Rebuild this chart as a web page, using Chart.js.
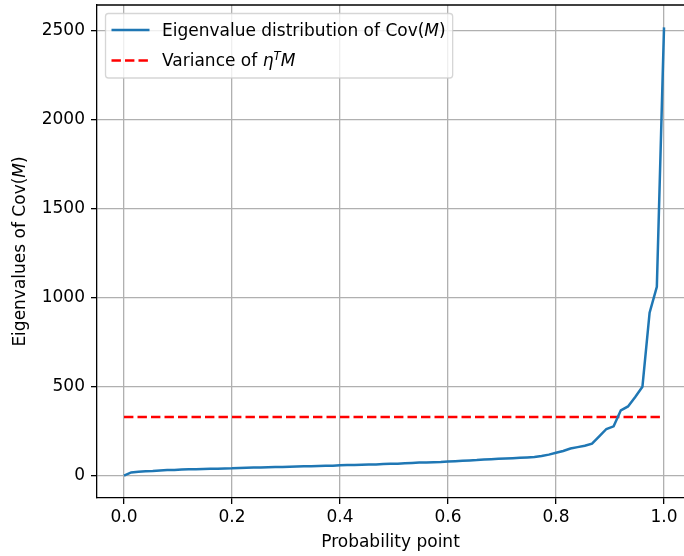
<!DOCTYPE html>
<html>
<head>
<meta charset="utf-8">
<title>Eigenvalue distribution</title>
<script src="https://cdn.jsdelivr.net/npm/chart.js@4.4.1/dist/chart.umd.min.js"></script>
<style>
  html, body { margin: 0; padding: 0; background: #fff; }
  canvas { display: block; }
</style>
</head>
<body>
<canvas id="chart" width="684" height="556"></canvas>
<script>
// probability points (x) and sorted eigenvalues of Cov(M) (y)
const probPoints = [
    0, 0.0133, 0.0267, 0.04, 0.0533, 0.0667, 0.08, 0.0933, 0.1067, 0.12,
    0.1333, 0.1467, 0.16, 0.1733, 0.1867, 0.2, 0.2133, 0.2267, 0.24, 0.2533,
    0.2667, 0.28, 0.2933, 0.3067, 0.32, 0.3333, 0.3467, 0.36, 0.3733, 0.3867,
    0.4, 0.4133, 0.4267, 0.44, 0.4533, 0.4667, 0.48, 0.4933, 0.5067, 0.52,
    0.5333, 0.5467, 0.56, 0.5733, 0.5867, 0.6, 0.6133, 0.6267, 0.64, 0.6533,
    0.6667, 0.68, 0.6933, 0.7067, 0.72, 0.7333, 0.7467, 0.76, 0.7733, 0.7867,
    0.8, 0.8133, 0.8267, 0.84, 0.8533, 0.8667, 0.88, 0.8933, 0.9067, 0.92,
    0.9333, 0.9467, 0.96, 0.9733, 0.9867, 1.0
];
const eigenvalues = [
    0, 18, 22, 24, 26, 29, 31, 32, 34, 35,
    36, 37, 38, 39, 40, 41, 43, 44, 45, 46,
    47, 48, 49, 50, 51, 52, 53, 54, 55, 56,
    58, 59, 60, 61, 62, 63, 65, 66, 67, 69,
    71, 73, 74, 75, 76, 79, 81, 83, 85, 87,
    90, 92, 94, 96, 98, 100, 102, 104, 110, 118,
    128, 138, 152, 160, 168, 180, 221, 262, 277, 367,
    389, 442, 499, 916, 1062, 2520
];
// horizontal reference: variance of eta^T M
const varianceX = [0, 1.0];
const varianceLevel = 330;

const xTicks = [0, 0.2, 0.4, 0.6, 0.8, 1.0];
const yTicks = [0, 500, 1000, 1500, 2000, 2500];

const FONT = '"DejaVu Sans", "Liberation Sans", sans-serif';
const FS = 17;
const BLUE = '#1f77b4';
const RED = '#ff0000';

// draw text made of pieces (upright / italic / superscript), returns width
function drawRich(ctx, parts, x, y, size, measureOnly) {
    let cx = x;
    parts.forEach(p => {
        const fs = p.sup ? size * 0.7 : size;
        ctx.font = (p.italic ? 'italic ' : '') + fs + 'px ' + FONT;
        if (!measureOnly) ctx.fillText(p.t, cx, p.sup ? y - size * 0.38 : y);
        cx += ctx.measureText(p.t).width;
    });
    return cx - x;
}

const legendRows = [
    { color: BLUE, dash: [], parts: [{ t: 'Eigenvalue distribution of Cov(' }, { t: 'M', italic: true }, { t: ')' }] },
    { color: RED, dash: [9.4, 4.1], parts: [{ t: 'Variance of ' }, { t: '\u03B7', italic: true }, { t: 'T', italic: true, sup: true }, { t: 'M', italic: true }] }
];
const yTitleParts = [{ t: 'Eigenvalues of Cov(' }, { t: 'M', italic: true }, { t: ')' }];

const decorPlugin = {
    id: 'decor',
    afterDatasetsDraw(chart) {
        const ctx = chart.ctx;
        const area = chart.chartArea;
        ctx.save();

        // top spine
        ctx.strokeStyle = '#000';
        ctx.lineWidth = 1.3;
        ctx.beginPath();
        ctx.moveTo(area.left, area.top);
        ctx.lineTo(area.right, area.top);
        ctx.stroke();

        // legend box
        const left = area.left + 8.5;
        const top = area.top + 8.5;
        const textX = left + 56.5;
        let maxW = 0;
        legendRows.forEach(r => { maxW = Math.max(maxW, drawRich(ctx, r.parts, 0, 0, FS, true)); });
        const w = textX - left + maxW + 7;
        const h = 64.5;
        ctx.beginPath();
        ctx.roundRect(left, top, w, h, 3);
        ctx.fillStyle = 'rgba(255,255,255,0.8)';
        ctx.fill();
        ctx.strokeStyle = 'rgba(204,204,204,0.8)';
        ctx.lineWidth = 1.3;
        ctx.stroke();

        legendRows.forEach((r, i) => {
            const cy = top + 16.5 + i * 30.5;
            ctx.beginPath();
            ctx.setLineDash(r.dash);
            ctx.strokeStyle = r.color;
            ctx.lineWidth = 2.5;
            ctx.moveTo(left + 6, cy);
            ctx.lineTo(left + 44, cy);
            ctx.stroke();
            ctx.setLineDash([]);
            ctx.fillStyle = '#000';
            ctx.textBaseline = 'alphabetic';
            ctx.textAlign = 'left';
            drawRich(ctx, r.parts, textX, cy + 5.5, FS);
        });

        // y axis title
        const tw = drawRich(ctx, yTitleParts, 0, 0, FS, true);
        ctx.translate(25, (area.top + area.bottom) / 2);
        ctx.rotate(-Math.PI / 2);
        ctx.fillStyle = '#000';
        ctx.textBaseline = 'alphabetic';
        ctx.textAlign = 'left';
        drawRich(ctx, yTitleParts, -tw / 2, 0, FS);
        ctx.restore();
    }
};

const ctx = document.getElementById('chart').getContext('2d');
new Chart(ctx, {
    type: 'line',
    data: {
        datasets: [
            {
                label: 'Eigenvalue distribution of Cov(M)',
                data: probPoints.map((p, i) => ({ x: p, y: eigenvalues[i] })),
                borderColor: BLUE,
                borderWidth: 2.5,
                pointRadius: 0,
                tension: 0,
                fill: false
            },
            {
                label: 'Variance of \u03B7TM',
                data: varianceX.map(x => ({ x: x, y: varianceLevel })),
                borderColor: RED,
                borderWidth: 2.5,
                borderDash: [9.4, 4.1],
                pointRadius: 0,
                fill: false
            }
        ]
    },
    options: {
        responsive: false,
        devicePixelRatio: 1,
        animation: false,
        layout: { padding: { top: 5, left: 0, right: 0, bottom: 0 } },
        plugins: {
            legend: { display: false },
            tooltip: { enabled: false }
        },
        scales: {
            x: {
                type: 'linear',
                min: -0.05,
                max: 1.037,
                afterBuildTicks: s => { s.ticks = xTicks.map(v => ({ value: v })); },
                afterFit: s => { s.height = 58; s.paddingLeft = 0; s.paddingRight = 0; },
                ticks: {
                    callback: v => v.toFixed(1),
                    font: { family: FONT, size: FS },
                    color: '#000',
                    padding: 3,
                    maxRotation: 0,
                    autoSkip: false
                },
                grid: { color: '#b0b0b0', lineWidth: 1.3, tickColor: '#000', tickLength: 6 },
                border: { color: '#000', width: 1.3 },
                title: {
                    display: true,
                    text: 'Probability point',
                    font: { family: FONT, size: FS },
                    color: '#000',
                    padding: { top: 0, bottom: 3 }
                }
            },
            y: {
                min: -126,
                max: 2646,
                afterBuildTicks: s => { s.ticks = yTicks.map(v => ({ value: v })); },
                afterFit: s => { s.width = 97; s.paddingTop = 0; s.paddingBottom = 0; },
                ticks: {
                    callback: v => String(v),
                    font: { family: FONT, size: FS },
                    color: '#000',
                    padding: 6
                },
                grid: { color: '#b0b0b0', lineWidth: 1.3, tickColor: '#000', tickLength: 6 },
                border: { color: '#000', width: 1.3 }
            }
        }
    },
    plugins: [decorPlugin]
});
</script>
</body>
</html>
